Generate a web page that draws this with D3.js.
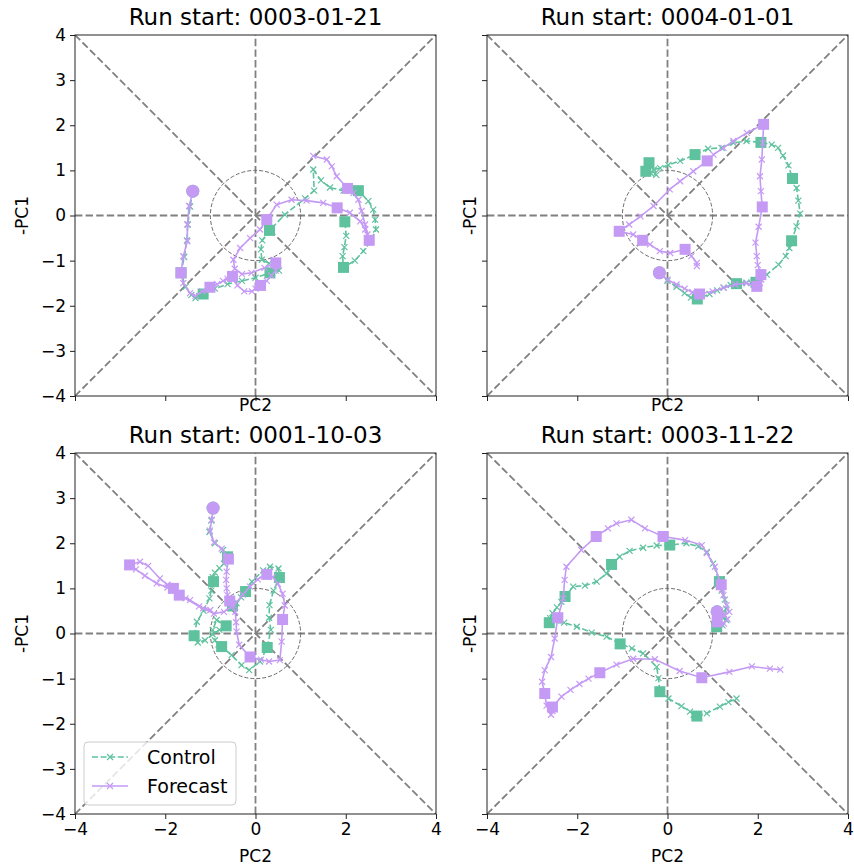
<!DOCTYPE html>
<html>
<head>
<meta charset="utf-8">
<script src="https://cdn.jsdelivr.net/npm/d3@7"></script>
<style>
  body { margin: 0; background: #fff; }
  text { font-family: "DejaVu Sans", sans-serif; fill: #000; }
</style>
</head>
<body>
<div id="chart"></div>
<script>
// --------------------------------------------------
// Phase-space trajectories, control vs forecast
// --------------------------------------------------

var titles = ["Run start: 0003-01-21", "Run start: 0004-01-01",
              "Run start: 0001-10-03", "Run start: 0003-11-22"];

var xTickValues = [-4, -2, 0, 2, 4];
var yTickValues = [-4, -3, -2, -1, 0, 1, 2, 3, 4];

var seriesNames = ["Control", "Forecast"];

// panel 1: 0003-01-21
var controlA = [[-1.39,0.54],[-1.45,0.20],[-1.50,-0.20],[-1.52,-0.55],[-1.58,-0.92],[-1.65,-1.27],
  [-1.55,-1.58],[-1.42,-1.76],[-1.33,-1.83],[-1.25,-1.78],[-1.16,-1.74],[-0.90,-1.62],[-0.62,-1.52],
  [-0.30,-1.45],[0.00,-1.38],[0.32,-1.27],[0.52,-1.22],[0.48,-1.10],[0.30,-1.06],[0.14,-0.98],
  [0.12,-0.75],[0.15,-0.55],[0.31,-0.33],[0.65,0.02],[1.10,0.38],[1.30,0.55],[1.28,1.02],[1.45,0.78],
  [1.65,0.62],[1.95,0.55],[2.28,0.55],[2.50,0.32],[2.61,0.13],[2.65,-0.09],[2.67,-0.31],[2.55,-0.58],
  [2.39,-0.79],[2.20,-1.00],[1.95,-1.15],[1.93,-0.90],[1.97,-0.70],[2.01,-0.45],[1.98,-0.14]];
var controlSquaresA = [5, 10, 15, 22, 30, 38, 42];
var forecastA = [[-1.39,0.54],[-1.47,0.21],[-1.51,-0.20],[-1.51,-0.57],[-1.60,-0.90],[-1.65,-1.27],
  [-1.60,-1.50],[-1.45,-1.72],[-1.33,-1.78],[-1.18,-1.68],[-1.01,-1.59],[-0.85,-1.52],[-0.72,-1.45],
  [-0.62,-1.40],[-0.55,-1.37],[-0.51,-1.35],[-0.40,-1.55],[-0.25,-1.68],[-0.08,-1.68],[0.00,-1.62],
  [0.11,-1.55],[0.25,-1.45],[0.35,-1.33],[0.45,-1.22],[0.48,-1.12],[0.45,-1.05],[0.20,-1.16],
  [-0.09,-1.27],[-0.30,-1.30],[-0.46,-1.18],[-0.49,-0.98],[-0.34,-0.72],[-0.12,-0.50],[0.10,-0.31],
  [0.25,-0.09],[0.47,0.24],[0.80,0.35],[1.13,0.33],[1.50,0.28],[1.81,0.17],[2.09,0.06],[2.32,-0.13],
  [2.43,-0.31],[2.48,-0.42],[2.52,-0.55],[2.43,-0.20],[2.35,0.10],[2.28,0.35],[2.17,0.50],[2.04,0.60],
  [1.80,0.87],[1.69,1.09],[1.58,1.24],[1.28,1.32]];
var forecastSquaresA = [5, 10, 15, 20, 25, 34, 39, 44, 49];

// panel 2: 0004-01-01
var controlB = [[-0.18,-1.27],[0.00,-1.45],[0.20,-1.58],[0.38,-1.72],[0.52,-1.82],[0.66,-1.85],
  [0.93,-1.74],[1.10,-1.66],[1.24,-1.60],[1.40,-1.54],[1.53,-1.51],[1.65,-1.50],[1.75,-1.49],
  [1.85,-1.49],[1.92,-1.48],[1.96,-1.48],[2.20,-1.31],[2.46,-1.09],[2.62,-0.90],[2.70,-0.72],
  [2.75,-0.56],[2.86,-0.24],[2.94,0.04],[2.90,0.33],[2.86,0.61],[2.77,0.82],[2.68,1.11],[2.56,1.33],
  [2.45,1.50],[2.31,1.57],[2.07,1.62],[1.75,1.65],[1.46,1.61],[1.20,1.50],[0.90,1.48],[0.61,1.35],
  [0.28,1.21],[0.02,1.12],[-0.16,1.05],[-0.30,1.02],[-0.41,1.17],[-0.25,0.90],[-0.36,0.93],[-0.48,0.98]];
var controlSquaresB = [5, 10, 15, 20, 25, 30, 35, 40, 43];
var forecastB = [[-0.18,-1.27],[0.00,-1.42],[0.20,-1.53],[0.38,-1.62],[0.55,-1.70],[0.71,-1.74],
  [1.00,-1.68],[1.25,-1.60],[1.50,-1.53],[1.75,-1.50],[1.98,-1.57],[2.05,-1.50],[2.08,-1.42],
  [2.10,-1.36],[2.08,-1.32],[2.07,-1.31],[2.00,-1.10],[1.98,-0.90],[1.95,-0.60],[2.02,-0.25],
  [2.10,0.19],[2.07,0.54],[2.05,0.87],[2.09,1.24],[2.11,1.61],[2.13,2.02],[1.76,1.83],[1.46,1.65],
  [1.24,1.50],[1.02,1.35],[0.88,1.21],[0.57,0.98],[0.28,0.76],[0.05,0.58],[-0.31,0.21],[-0.60,-0.02],
  [-0.85,-0.20],[-1.07,-0.35],[-0.76,-0.42],[-0.55,-0.55],[-0.39,-0.64],[-0.17,-0.79],[0.06,-0.83],
  [0.39,-0.75],[0.53,-0.90],[0.65,-1.05],[0.65,-1.12]];
var forecastSquaresB = [5, 10, 15, 20, 25, 30, 37, 39, 43];

// panel 3: 0001-10-03
var controlC = [[-0.94,2.78],[-0.98,2.50],[-1.02,2.25],[-0.90,2.00],[-0.72,1.85],[-0.62,1.70],
  [-0.70,1.55],[-0.80,1.45],[-0.90,1.35],[-0.95,1.25],[-0.93,1.15],[-0.98,0.95],[-1.02,0.78],
  [-1.15,0.50],[-1.30,0.26],[-1.36,-0.05],[-1.28,-0.20],[-1.12,-0.15],[-0.95,-0.02],[-0.80,0.08],
  [-0.65,0.17],[-0.86,0.30],[-0.95,0.08],[-0.90,-0.15],[-0.82,-0.24],[-0.75,-0.29],[-0.53,-0.48],
  [-0.31,-0.70],[-0.14,-0.81],[0.10,-0.62],[0.26,-0.31],[0.34,0.08],[0.30,0.35],[0.31,0.63],
  [0.40,0.95],[0.53,1.24],[0.51,1.44],[0.32,1.48],[0.17,1.40],[-0.08,1.15],[-0.22,0.93],
  [-0.32,0.80],[-0.42,0.67],[-0.48,0.62],[-0.51,0.61]];
var controlSquaresC = [5, 10, 15, 20, 25, 30, 35, 40, 44];
var forecastC = [[-0.94,2.78],[-0.97,2.52],[-1.01,2.28],[-0.92,2.02],[-0.75,1.88],[-0.60,1.65],
  [-0.64,1.37],[-0.65,1.19],[-0.64,1.00],[-0.62,0.85],[-0.57,0.72],[-0.45,0.48],[-0.43,0.25],
  [-0.42,0.04],[-0.36,-0.25],[-0.12,-0.52],[0.12,-0.58],[0.30,-0.62],[0.54,-0.59],[0.58,-0.18],
  [0.60,0.31],[0.65,0.62],[0.60,0.88],[0.50,1.10],[0.38,1.25],[0.25,1.31],[0.05,1.20],[-0.12,1.04],
  [-0.28,0.86],[-0.48,0.62],[-0.70,0.48],[-0.92,0.44],[-1.16,0.56],[-1.45,0.74],[-1.69,0.85],
  [-1.95,1.02],[-2.19,1.11],[-2.45,1.28],[-2.65,1.42],[-2.79,1.52],[-2.56,1.59],[-2.38,1.50],
  [-2.12,1.22],[-1.95,1.08],[-1.82,1.00],[-1.55,0.78],[-1.25,0.60],[-1.00,0.52]];
var forecastSquaresC = [5, 10, 15, 20, 25, 34, 39, 44];

// panel 4: 0003-11-22
var controlD = [[1.10,0.48],[1.25,0.42],[1.30,0.30],[1.22,0.18],[1.12,0.12],[1.09,0.15],
  [1.22,0.35],[1.30,0.55],[1.27,0.75],[1.20,0.95],[1.15,1.15],[1.01,1.55],[0.87,1.81],[0.68,1.93],
  [0.42,2.00],[0.05,1.96],[-0.24,1.95],[-0.54,1.90],[-0.84,1.83],[-1.06,1.70],[-1.24,1.53],
  [-1.35,1.33],[-1.57,1.15],[-1.83,1.06],[-2.09,1.04],[-2.27,0.82],[-2.35,0.70],[-2.45,0.58],
  [-2.55,0.45],[-2.60,0.34],[-2.62,0.24],[-2.29,0.24],[-2.01,0.15],[-1.68,0.02],[-1.35,-0.07],
  [-1.05,-0.23],[-0.79,-0.33],[-0.54,-0.44],[-0.24,-0.74],[-0.20,-0.99],[-0.17,-1.29],[0.02,-1.44],
  [0.31,-1.61],[0.50,-1.73],[0.58,-1.80],[0.65,-1.83],[0.87,-1.77],[1.16,-1.62],[1.35,-1.52],[1.53,-1.44]];
var controlSquaresD = [5, 10, 15, 20, 25, 30, 35, 40, 45];
var forecastD = [[1.10,0.48],[1.25,0.42],[1.33,0.32],[1.25,0.22],[1.15,0.20],[1.10,0.26],
  [1.37,0.48],[1.31,0.63],[1.24,0.85],[1.21,0.98],[1.19,1.08],[1.05,1.48],[0.87,1.78],[0.76,1.96],
  [0.39,2.07],[-0.10,2.15],[-0.50,2.33],[-0.80,2.52],[-1.13,2.44],[-1.32,2.33],[-1.58,2.15],
  [-1.91,1.85],[-2.24,1.48],[-2.28,1.19],[-2.31,0.78],[-2.43,0.35],[-2.50,-0.11],[-2.58,-0.52],
  [-2.72,-0.81],[-2.78,-1.07],[-2.72,-1.33],[-2.68,-1.60],[-2.58,-1.80],[-2.55,-1.72],[-2.52,-1.62],
  [-2.55,-1.63],[-2.35,-1.40],[-2.15,-1.25],[-1.95,-1.12],[-1.75,-1.00],[-1.50,-0.87],[-1.13,-0.69],
  [-0.76,-0.56],[-0.28,-0.57],[0.27,-0.83],[0.76,-0.98],[1.37,-0.85],[1.87,-0.73],[2.27,-0.78],[2.50,-0.80]];
var forecastSquaresD = [5, 10, 15, 20, 25, 30, 35, 40, 45];

var controlColor = "#5fc29e";
var forecastColor = "#c59af5";
var refColor = "#808080";

var width = 854;
var height = 866;
var size = 361;

var panels = [
  { title: titles[0], control: controlA, ctrlSq: controlSquaresA, forecast: forecastA, fcSq: forecastSquaresA,
    left: 75, top: 35, xLabels: false, yLabels: true, legend: false },
  { title: titles[1], control: controlB, ctrlSq: controlSquaresB, forecast: forecastB, fcSq: forecastSquaresB,
    left: 487, top: 35, xLabels: false, yLabels: false, legend: false },
  { title: titles[2], control: controlC, ctrlSq: controlSquaresC, forecast: forecastC, fcSq: forecastSquaresC,
    left: 75, top: 453, xLabels: true, yLabels: true, legend: true },
  { title: titles[3], control: controlD, ctrlSq: controlSquaresD, forecast: forecastD, fcSq: forecastSquaresD,
    left: 487, top: 453, xLabels: true, yLabels: false, legend: false }
];

var svg = d3.select("#chart")
  .append("svg")
  .attr("width", width)
  .attr("height", height);

var xScale = d3.scaleLinear().domain([-4, 4]).range([0, size]);
var yScale = d3.scaleLinear().domain([-4, 4]).range([size, 0]);

var line = d3.line()
  .x(function(d) { return xScale(d[0]); })
  .y(function(d) { return yScale(d[1]); });

function crossPath(s) {
  return "M" + (-s) + "," + (-s) + "L" + s + "," + s + "M" + (-s) + "," + s + "L" + s + "," + (-s);
}

function drawSeries(g, data, squares, color, dashed) {
  g.append("path")
    .datum(data)
    .attr("d", line)
    .attr("fill", "none")
    .attr("stroke", color)
    .attr("stroke-width", 1.6)
    .attr("stroke-dasharray", dashed ? "6,2.6" : null);

  g.selectAll(null)
    .data(data)
    .enter()
    .append("path")
    .attr("transform", function(d) { return "translate(" + xScale(d[0]) + "," + yScale(d[1]) + ")"; })
    .attr("d", crossPath(3))
    .attr("stroke", color)
    .attr("stroke-width", 1.2)
    .attr("fill", "none");
}

function drawSquares(g, data, squares, color) {
  g.selectAll(null)
    .data(squares)
    .enter()
    .append("rect")
    .attr("x", function(i) { return xScale(data[i][0]) - 5.5; })
    .attr("y", function(i) { return yScale(data[i][1]) - 5.5; })
    .attr("width", 11)
    .attr("height", 11)
    .attr("fill", color);
}

panels.forEach(function(p, k) {
  var g = svg.append("g")
    .attr("transform", "translate(" + p.left + "," + p.top + ")");

  var clipId = "clip" + k;
  g.append("clipPath").attr("id", clipId)
    .append("rect").attr("width", size).attr("height", size);

  var plot = g.append("g").attr("clip-path", "url(#" + clipId + ")");

  // reference lines
  var refLines = [[[-4, -4], [4, 4]], [[-4, 4], [4, -4]], [[-4, 0], [4, 0]], [[0, -4], [0, 4]]];
  refLines.forEach(function(r) {
    plot.append("line")
      .attr("x1", xScale(r[0][0])).attr("y1", yScale(r[0][1]))
      .attr("x2", xScale(r[1][0])).attr("y2", yScale(r[1][1]))
      .attr("stroke", refColor)
      .attr("stroke-width", 1.8)
      .attr("stroke-dasharray", "7.4,3.2");
  });

  plot.append("circle")
    .attr("cx", xScale(0))
    .attr("cy", yScale(0))
    .attr("r", xScale(1) - xScale(0))
    .attr("fill", "none")
    .attr("stroke", "#6b6b6b")
    .attr("stroke-width", 1)
    .attr("stroke-dasharray", "4,2");

  drawSeries(plot, p.control, p.ctrlSq, controlColor, true);
  drawSquares(plot, p.control, p.ctrlSq, controlColor);
  plot.append("circle")
    .attr("cx", xScale(p.control[0][0])).attr("cy", yScale(p.control[0][1]))
    .attr("r", 6.5).attr("fill", controlColor);

  drawSeries(plot, p.forecast, p.fcSq, forecastColor, false);
  drawSquares(plot, p.forecast, p.fcSq, forecastColor);
  plot.append("circle")
    .attr("cx", xScale(p.forecast[0][0])).attr("cy", yScale(p.forecast[0][1]))
    .attr("r", 6.5).attr("fill", forecastColor);

  // axes
  var xAxis = d3.axisBottom(xScale)
    .tickValues(xTickValues)
    .tickSize(5)
    .tickSizeOuter(0)
    .tickPadding(4);
  if (!p.xLabels) xAxis.tickFormat(function() { return ""; });

  var yAxis = d3.axisLeft(yScale)
    .tickValues(yTickValues)
    .tickSize(5)
    .tickSizeOuter(0)
    .tickPadding(4);
  if (!p.yLabels) yAxis.tickFormat(function() { return ""; });

  var xg = g.append("g")
    .attr("transform", "translate(0," + size + ")")
    .call(xAxis);
  var yg = g.append("g").call(yAxis);

  [xg, yg].forEach(function(a) {
    a.select(".domain").remove();
    a.selectAll("text")
      .style("font-family", "DejaVu Sans, sans-serif")
      .style("font-size", "17px")
      .attr("fill", "#000");
    a.selectAll("line").attr("stroke", "#222").attr("stroke-width", 1);
  });

  g.append("rect")
    .attr("width", size)
    .attr("height", size)
    .attr("fill", "none")
    .attr("stroke", "#222")
    .attr("stroke-width", 1);

  // title and labels
  g.append("text")
    .attr("x", size / 2)
    .attr("y", -10)
    .attr("text-anchor", "middle")
    .style("font-size", "23px")
    .text(p.title);

  g.append("text")
    .attr("x", size / 2)
    .attr("y", p.xLabels ? size + 48 : size + 15)
    .attr("text-anchor", "middle")
    .style("font-size", "17px")
    .text("PC2");

  g.append("text")
    .attr("transform", "translate(" + (p.yLabels ? -53 : -17) + "," + (size / 2) + ") rotate(-90)")
    .attr("text-anchor", "middle")
    .attr("dominant-baseline", "central")
    .style("font-size", "17px")
    .text("-PC1");

  if (p.legend) {
    var lg = g.append("g").attr("transform", "translate(9," + (size - 72) + ")");
    lg.append("rect")
      .attr("width", 152)
      .attr("height", 63)
      .attr("rx", 4)
      .attr("fill", "#fff")
      .attr("fill-opacity", 0.8)
      .attr("stroke", "#cccccc")
      .attr("stroke-width", 1);

    seriesNames.forEach(function(name, i) {
      var color = i === 0 ? controlColor : forecastColor;
      var yy = 15 + i * 29;
      lg.append("line")
        .attr("x1", 8).attr("x2", 44)
        .attr("y1", yy).attr("y2", yy)
        .attr("stroke", color)
        .attr("stroke-width", 1.6)
        .attr("stroke-dasharray", i === 0 ? "6,2.6" : null);
      lg.append("path")
        .attr("transform", "translate(26," + yy + ")")
        .attr("d", crossPath(3))
        .attr("stroke", color)
        .attr("stroke-width", 1.2);
      lg.append("text")
        .attr("x", 63)
        .attr("y", yy + 7)
        .style("font-size", "19px")
        .text(name);
    });
  }
});
</script>
</body>
</html>
